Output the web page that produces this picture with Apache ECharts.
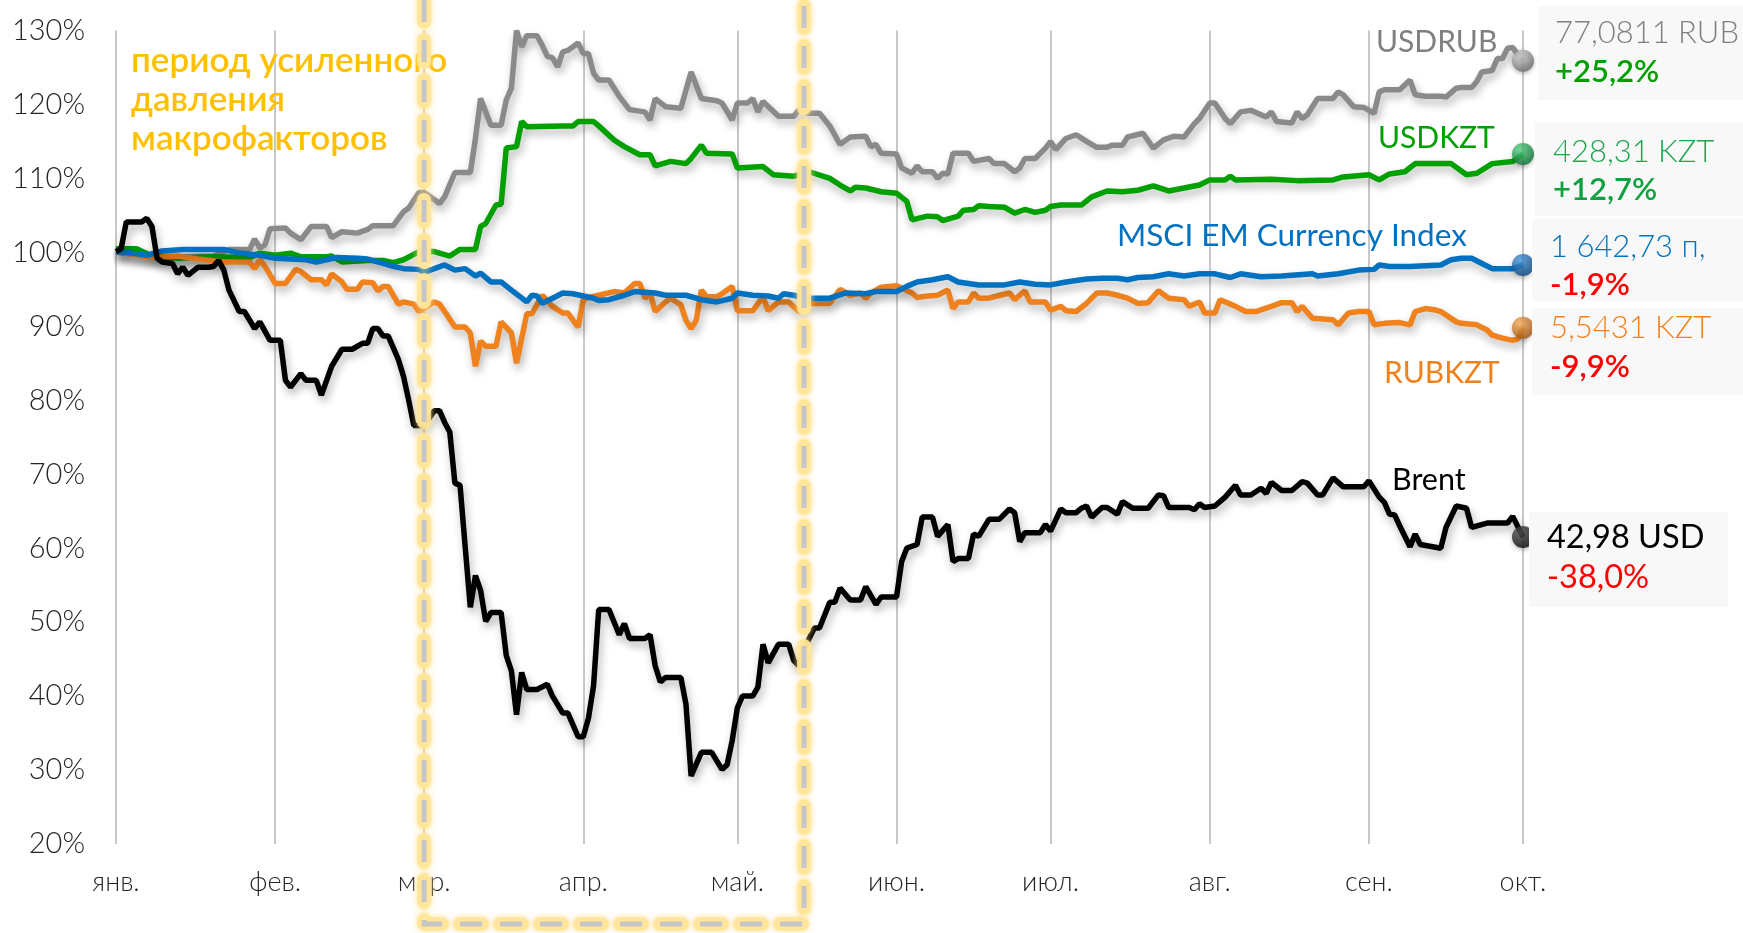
<!DOCTYPE html>
<html>
<head>
<meta charset="utf-8">
<script src="https://cdn.jsdelivr.net/npm/echarts@6/dist/echarts.min.js"></script>
<style>
html, body { margin: 0; padding: 0; background: #fff; }
#chart { width: 1743px; height: 933px; }
</style>
</head>
<body>
<div id="chart"></div>
<script>
// months on the x axis (index = day of 2020, 0 = 1 Jan)
var monthNames = ['янв.', 'фев.', 'мар.', 'апр.', 'май.', 'июн.', 'июл.', 'авг.', 'сен.', 'окт.'];
var monthStarts = [0, 31, 60, 91, 121, 152, 182, 213, 244, 274];

// index 1 Jan = 100%, pairs [day, value]
var usdrub = [[0,100.0],[6,99.6],[12,99.4],[19,99.5],[22,100.4],[26,100.4],[27,101.8],[28,100.6],[29,101.0],[30,103.2],[33,103.3],[34,102.6],[36,101.7],[38,103.5],[41,103.5],[42,102.0],[44,102.8],[47,102.6],[49,103.1],[50,103.6],[54,103.6],[56,105.5],[57,106.0],[59,108.1],[60,108.1],[62,107.1],[63,106.6],[64,107.5],[66,110.8],[69,110.8],[70,115.4],[71,120.8],[73,117.2],[75,117.2],[76,120.6],[77,122.2],[78,130.0],[79,127.8],[80,129.3],[82,129.3],[83,128.0],[84,126.5],[85,126.3],[86,125.1],[87,127.1],[88,127.3],[90,128.3],[91,126.9],[92,126.9],[93,124.2],[94,123.3],[96,123.3],[98,121.1],[100,119.3],[103,119.0],[104,117.9],[105,120.8],[107,119.7],[110,119.5],[112,124.4],[114,120.8],[117,120.5],[118,120.2],[120,117.9],[121,120.2],[123,120.2],[124,120.8],[125,119.0],[126,120.4],[129,118.4],[132,118.4],[133,119.3],[135,118.8],[137,118.8],[139,117.1],[141,114.6],[143,115.6],[146,115.7],[147,114.3],[148,114.6],[149,113.4],[152,113.3],[153,111.4],[155,110.7],[156,111.7],[157,110.9],[159,110.9],[160,110.0],[161,110.7],[162,110.6],[163,113.4],[166,113.4],[167,112.3],[170,112.7],[171,112.0],[173,112.0],[175,110.9],[176,111.4],[177,112.7],[179,112.7],[181,114.1],[182,115.0],[183,113.9],[185,115.4],[187,115.9],[189,115.0],[191,114.2],[193,114.2],[194,114.5],[196,114.5],[197,115.6],[200,116.1],[202,114.1],[204,115.2],[206,115.7],[208,115.6],[210,117.4],[211,118.1],[213,120.2],[214,120.2],[216,118.1],[217,117.4],[219,119.0],[221,119.2],[224,118.3],[225,119.0],[226,117.7],[229,117.5],[230,119.0],[231,118.1],[232,118.6],[234,120.8],[237,120.8],[238,121.7],[239,121.3],[241,119.7],[243,119.6],[245,118.8],[246,121.7],[247,122.0],[250,122.0],[252,123.3],[253,121.3],[255,121.1],[258,121.1],[259,121.0],[261,122.2],[262,122.3],[264,122.3],[265,123.1],[266,124.4],[268,124.6],[269,126.2],[270,126.2],[271,127.6],[272,127.7],[273,126.7],[274,125.9]];

var usdkzt = [[0,100.5],[4,100.5],[7,99.5],[12,99.2],[19,99.4],[26,99.3],[28,99.9],[31,99.6],[34,99.9],[36,99.4],[41,99.4],[42,99.5],[44,98.7],[49,98.9],[52,98.9],[54,98.6],[56,99.0],[59,100.1],[62,100.1],[65,99.5],[67,100.4],[70,100.4],[71,103.5],[72,103.9],[74,106.4],[75,106.5],[76,114.1],[78,114.3],[79,117.7],[80,117.0],[87,117.1],[89,117.1],[90,117.7],[93,117.7],[94,117.1],[97,115.2],[99,114.3],[102,113.2],[104,113.2],[105,111.7],[108,112.3],[111,112.0],[112,112.7],[114,114.5],[115,113.4],[120,113.3],[121,111.4],[126,111.6],[128,110.5],[132,110.3],[135,110.9],[139,110.0],[141,109.1],[143,108.3],[144,108.8],[146,108.7],[149,108.2],[152,108.0],[154,106.9],[155,104.4],[158,104.9],[160,104.8],[161,104.3],[164,104.9],[165,105.7],[167,105.8],[168,106.3],[170,106.2],[173,106.1],[174,105.7],[175,105.3],[177,105.8],[179,105.4],[181,105.7],[182,106.2],[184,106.4],[188,106.4],[190,107.5],[193,108.3],[196,108.2],[199,108.4],[202,109.0],[205,108.3],[208,108.7],[211,109.1],[213,109.8],[216,109.8],[217,110.3],[218,109.8],[225,109.9],[230,109.7],[237,109.8],[239,110.2],[244,110.5],[246,109.8],[248,110.6],[251,110.9],[253,112.0],[258,112.0],[260,112.0],[263,110.5],[265,110.7],[268,112.0],[272,112.3],[274,113.3]];

var msci = [[0,100.1],[3,99.9],[6,99.6],[9,100.2],[13,100.4],[17,100.4],[21,100.4],[24,99.9],[28,99.6],[31,99.2],[34,99.1],[37,99.0],[39,98.7],[43,99.3],[47,99.2],[49,99.1],[52,98.5],[54,98.1],[56,97.8],[59,97.7],[60,97.3],[62,97.8],[64,98.3],[66,97.6],[68,97.8],[70,96.8],[71,97.2],[73,96.0],[75,96.0],[77,94.9],[80,93.3],[81,94.2],[82,94.1],[83,93.1],[85,93.8],[87,94.5],[89,94.4],[91,94.1],[93,93.8],[94,93.5],[96,93.6],[99,94.2],[101,94.7],[105,94.5],[107,94.2],[111,94.2],[114,93.6],[117,93.3],[120,93.8],[121,94.5],[124,94.2],[127,94.1],[129,93.8],[130,94.4],[132,94.2],[134,93.8],[139,93.8],[142,94.5],[146,94.4],[148,94.7],[152,94.7],[154,95.4],[156,96.0],[159,96.3],[162,96.7],[164,96.0],[168,95.6],[173,95.6],[176,96.0],[179,95.7],[182,95.6],[185,96.0],[189,96.4],[192,96.5],[195,96.5],[197,96.3],[199,96.6],[202,96.7],[205,97.1],[208,96.8],[211,97.1],[214,97.1],[217,96.6],[219,97.1],[223,96.7],[227,96.8],[233,97.1],[234,96.8],[238,97.1],[242,97.6],[245,97.7],[246,98.3],[248,98.1],[252,98.1],[258,98.3],[260,99.0],[262,99.2],[264,99.2],[266,98.5],[268,97.8],[272,97.8],[274,98.3]];

var rubkzt = [[0,100.1],[7,99.3],[12,99.5],[16,99.1],[21,98.7],[26,98.7],[27,97.8],[28,99.0],[29,98.1],[31,95.8],[33,95.8],[35,97.7],[36,97.4],[38,96.3],[40,96.3],[41,95.6],[42,97.1],[44,96.0],[45,95.0],[47,95.0],[48,96.0],[50,95.9],[51,94.8],[52,95.4],[53,95.4],[55,93.0],[56,93.3],[58,93.0],[59,92.0],[62,93.3],[63,93.0],[64,92.0],[66,89.9],[68,89.9],[69,89.1],[70,84.6],[71,88.0],[72,87.3],[74,87.3],[75,90.6],[77,89.1],[78,85.0],[80,91.7],[81,91.7],[83,94.2],[85,92.7],[87,91.8],[88,91.8],[90,89.9],[91,93.6],[92,93.9],[94,94.2],[97,94.7],[99,94.5],[101,95.8],[102,95.8],[103,93.8],[104,94.5],[105,92.0],[107,93.3],[108,93.8],[110,92.9],[111,90.8],[112,89.7],[113,90.8],[114,94.9],[115,94.0],[117,94.0],[118,94.4],[120,95.4],[121,92.1],[124,92.1],[126,94.0],[127,92.1],[129,93.3],[131,93.3],[133,92.0],[135,93.1],[139,93.1],[141,95.0],[143,94.2],[145,94.5],[146,93.8],[147,94.5],[149,95.3],[152,95.5],[155,94.5],[156,93.9],[158,94.1],[160,94.2],[162,94.9],[163,92.4],[164,93.3],[166,93.3],[167,94.5],[168,93.8],[170,93.8],[171,94.0],[174,94.5],[175,93.6],[177,94.8],[178,93.3],[181,93.3],[182,92.2],[184,92.7],[185,92.1],[187,92.0],[189,93.1],[191,94.5],[193,94.5],[195,94.2],[197,93.8],[199,93.1],[201,93.2],[203,94.8],[205,93.8],[208,93.6],[209,92.7],[211,93.3],[212,91.8],[214,91.8],[215,93.6],[218,92.7],[220,92.0],[222,92.0],[225,92.7],[227,93.2],[229,93.2],[230,92.0],[231,92.7],[233,91.1],[235,91.0],[237,90.9],[238,90.2],[240,91.8],[242,92.0],[244,92.0],[245,90.2],[247,90.4],[250,90.5],[252,90.2],[253,92.0],[255,92.4],[257,92.2],[258,92.0],[261,90.6],[262,90.4],[265,90.2],[267,89.5],[268,88.8],[270,88.4],[272,88.1],[273,88.3],[274,89.8]];

var brent = [[0,100.1],[1,100.5],[2,104.1],[5,104.1],[6,104.6],[7,103.5],[8,99.2],[9,98.7],[11,98.5],[12,97.1],[13,98.0],[14,96.9],[16,98.0],[18,98.0],[19,98.1],[20,98.9],[21,97.6],[22,94.9],[24,92.0],[25,92.0],[27,89.7],[28,90.6],[30,88.1],[32,88.1],[33,82.7],[34,81.8],[36,83.6],[37,82.7],[39,82.7],[40,80.7],[42,84.6],[44,86.9],[46,86.9],[48,87.7],[49,87.7],[50,89.7],[51,89.7],[52,88.7],[53,88.7],[55,85.5],[56,83.2],[57,80.0],[58,76.6],[60,76.6],[62,78.6],[63,78.6],[64,77.0],[65,75.7],[66,68.8],[67,68.5],[68,60.2],[69,52.0],[70,56.3],[71,54.3],[72,50.1],[73,51.3],[75,51.3],[76,45.5],[77,43.4],[78,37.5],[79,43.2],[80,40.9],[82,40.9],[84,41.6],[85,40.0],[87,37.7],[88,37.7],[90,34.5],[91,34.5],[92,37.0],[93,41.4],[94,51.7],[96,51.7],[98,48.3],[99,49.8],[100,47.8],[103,47.8],[104,48.3],[105,44.1],[106,41.9],[107,42.5],[110,42.5],[111,38.9],[112,29.2],[114,32.4],[116,32.4],[118,30.1],[119,30.7],[120,34.0],[121,38.4],[122,40.0],[124,40.0],[125,41.2],[126,47.0],[127,44.5],[129,47.0],[131,47.0],[132,44.8],[133,44.1],[134,46.4],[136,49.2],[137,49.2],[139,52.7],[140,52.7],[141,54.6],[143,53.0],[145,53.0],[146,54.8],[148,52.4],[149,53.4],[152,53.4],[153,58.2],[154,60.0],[156,60.5],[157,64.2],[159,64.2],[160,61.6],[162,63.2],[163,58.2],[164,58.6],[166,58.6],[167,61.9],[168,61.6],[170,63.9],[172,63.9],[174,65.3],[175,64.8],[176,60.9],[177,62.1],[180,62.1],[181,63.2],[182,62.3],[184,65.3],[185,64.8],[187,64.8],[188,65.4],[189,65.7],[190,64.2],[192,65.5],[193,65.5],[195,64.6],[196,66.3],[198,65.4],[201,65.4],[203,67.2],[204,67.1],[205,65.5],[209,65.5],[210,65.2],[211,66.0],[212,65.5],[214,65.7],[216,66.9],[218,68.5],[219,67.2],[221,67.2],[223,68.1],[224,67.4],[225,68.9],[227,67.8],[229,67.8],[231,69.0],[232,68.8],[234,67.2],[235,67.2],[237,69.5],[239,68.3],[243,68.3],[244,69.1],[246,66.9],[247,66.2],[248,64.6],[249,64.5],[250,63.0],[252,60.2],[253,61.9],[254,60.5],[258,60.0],[259,62.8],[261,65.7],[263,65.4],[264,62.8],[267,63.4],[271,63.4],[272,64.3],[274,61.5]];

// day categories 1 Jan .. 1 Oct 2020
var days = [];
for (var d = 0; d <= 274; d++) {
	var dt = new Date(2020, 0, 1 + d);
	days.push(dt.getFullYear() + '-' + (dt.getMonth() + 1) + '-' + dt.getDate());
}

function isMonthStart(idx) {
	return monthStarts.indexOf(idx) >= 0;
}

function ball(c1, c2) {
	return new echarts.graphic.RadialGradient(0.35, 0.3, 0.8, [
		{ offset: 0, color: c1 },
		{ offset: 1, color: c2 }
	]);
}

function lineSeries(name, data, color) {
	return {
		name: name,
		type: 'line',
		data: data,
		symbol: 'none',
		clip: false,
		lineStyle: {
			color: color,
			width: 5.5,
			shadowColor: 'rgba(0,0,0,0.3)',
			shadowBlur: 8,
			shadowOffsetX: 2,
			shadowOffsetY: 5
		}
	};
}

function last(arr) {
	return arr[arr.length - 1];
}

var chart = echarts.init(document.getElementById('chart'));

var option = {
	animation: false,
	backgroundColor: '#ffffff',
	grid: {
		left: 116,
		right: 220,
		top: 30.5,
		bottom: 89,
		containLabel: false,
		outerBoundsMode: 'none'
	},
	xAxis: {
		type: 'category',
		data: days,
		boundaryGap: false,
		axisLine: { show: false },
		axisTick: { show: false },
		axisLabel: {
			interval: isMonthStart,
			formatter: function (v, idx) {
				return monthNames[monthStarts.indexOf(idx)];
			},
			margin: 25,
			fontFamily: 'Lato',
			fontWeight: 300,
			fontSize: 27,
			color: '#262626'
		},
		splitLine: {
			show: true,
			interval: isMonthStart,
			lineStyle: { color: '#c8c8c8', width: 2 }
		}
	},
	yAxis: {
		type: 'value',
		min: 20,
		max: 130,
		interval: 10,
		axisLine: { show: false },
		axisTick: { show: false },
		splitLine: { show: false },
		axisLabel: {
			formatter: '{value}%',
			margin: 31,
			fontFamily: 'Lato',
			fontWeight: 300,
			fontSize: 29,
			color: '#262626'
		}
	},
	series: [
		lineSeries('USDRUB', usdrub, '#8a8a8a'),
		lineSeries('USDKZT', usdkzt, '#00a000'),
		lineSeries('RUBKZT', rubkzt, '#f0821e'),
		lineSeries('MSCI EM Currency Index', msci, '#0070c0'),
		lineSeries('Brent', brent, '#000000'),
		{
			type: 'scatter',
			symbolSize: 22,
			z: 5,
			data: [
				{ value: last(usdrub), itemStyle: { color: ball('#dedede', '#5e5e5e') } },
				{ value: last(usdkzt), itemStyle: { color: ball('#5cd88c', '#04682a') } },
				{ value: last(msci), itemStyle: { color: ball('#4a9ee6', '#033f74') } },
				{ value: last(rubkzt), itemStyle: { color: ball('#ffb25e', '#9a4c08') } },
				{ value: last(brent), itemStyle: { color: ball('#5a5a5a', '#000000') } }
			],
			itemStyle: { shadowColor: 'rgba(0,0,0,0.3)', shadowBlur: 4, shadowOffsetY: 2 }
		}
	]
};
chart.setOption(option);

// highlighted period frame: 1 Mar .. 14 May
var xL = chart.convertToPixel({ xAxisIndex: 0 }, 60);
var xR = chart.convertToPixel({ xAxisIndex: 0 }, 134);
var frame = [[xL, 0], [xL, 924], [xR, 924], [xR, 0]];

function txt(text, x, y, color, size, weight) {
	return {
		type: 'text',
		x: x,
		y: y,
		z: 200,
		style: {
			text: text,
			fill: color,
			fontFamily: 'Lato',
			fontSize: size,
			fontWeight: weight,
			verticalAlign: 'middle',
			align: 'left'
		}
	};
}

function box(x, y, w, h) {
	return { type: 'rect', z: 150, shape: { x: x, y: y, width: w, height: h }, style: { fill: '#f8f8f8' } };
}

chart.setOption({
	graphic: [
		box(1538, 6, 205, 94),
		box(1535, 123, 208, 93),
		box(1532, 219, 211, 82),
		box(1532, 308, 211, 87),
		box(1529, 512, 199, 95),
		txt('77,0811 RUB', 1555, 33, '#808080', 31, 300),
		txt('+25,2%', 1555, 72, '#00a000', 31, 600),
		txt('428,31 KZT', 1553, 152, '#1fa550', 31, 300),
		txt('+12,7%', 1553, 190, '#10a040', 31, 600),
		txt('1 642,73 п,', 1550, 247, '#0070c0', 31, 300),
		txt('-1,9%', 1550, 285, '#ff0000', 31, 600),
		txt('5,5431 KZT', 1550, 328, '#f0821e', 31, 300),
		txt('-9,9%', 1550, 367, '#ff0000', 31, 600),
		txt('42,98 USD', 1547, 538, '#000000', 32.5, 400),
		txt('-38,0%', 1547, 578, '#ff0000', 32.5, 400),
		txt('USDRUB', 1376, 42, '#808080', 30, 400),
		txt('USDKZT', 1378, 138, '#00a000', 30, 400),
		txt('MSCI EM Currency Index', 1117, 236, '#0070c0', 31.5, 400),
		txt('RUBKZT', 1384, 373, '#f0821e', 30, 400),
		txt('Brent', 1392, 480, '#000000', 30.5, 400),
		txt('период усиленного', 131, 61, '#ffc000', 35, 600),
		txt('давления', 131, 100, '#ffc000', 35, 600),
		txt('макрофакторов', 131, 139, '#ffc000', 35, 600),
		{
			type: 'polyline',
			z: 300,
			shape: { points: frame },
			style: {
				fill: null,
				stroke: '#ffe699',
				lineWidth: 14,
				lineDash: [22, 18],
				lineCap: 'round',
				lineJoin: 'round',
				shadowColor: '#ffe08a',
				shadowBlur: 6,
				opacity: 0.9
			}
		},
		{
			type: 'polyline',
			z: 301,
			shape: { points: frame },
			style: {
				fill: null,
				stroke: '#c6c6c6',
				lineWidth: 5,
				lineDash: [22, 18]
			}
		}
	]
});
</script>
</body>
</html>
